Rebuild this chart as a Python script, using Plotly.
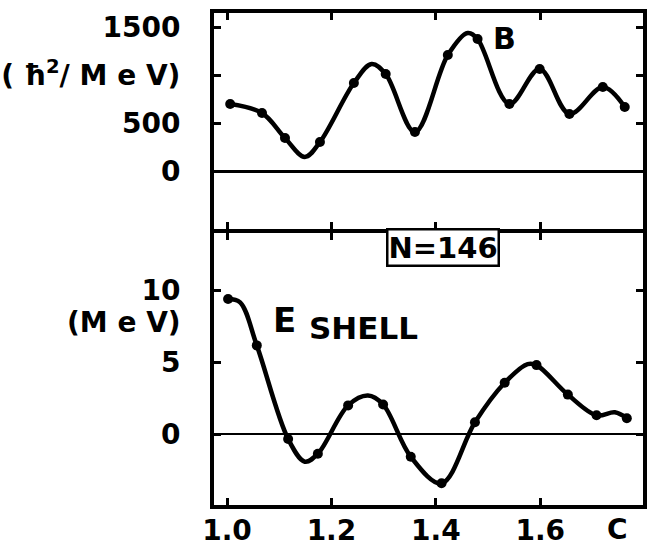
import plotly.graph_objects as go

# Inertia parameter B (hbar^2/MeV) versus deformation C, N=146
b_c = [1.006, 1.067, 1.111, 1.178, 1.243, 1.304, 1.360, 1.423, 1.480, 1.541, 1.599, 1.656, 1.720, 1.762]
b_val = [698, 604, 344, 302, 917, 1010, 406, 1208, 1375, 698, 1063, 594, 875, 667]
# turning points of the drawn B curve between the computed points
b_turn_c = [1.149, 1.277, 1.461]
b_turn_val = [146, 1115, 1438]

# Shell correction energy E_shell (MeV) versus C
e_c = [1.002, 1.057, 1.117, 1.174, 1.232, 1.299, 1.352, 1.411, 1.475, 1.532, 1.593, 1.653, 1.708, 1.766]
e_val = [9.38, 6.16, -0.34, -1.37, 1.99, 2.05, -1.58, -3.42, 0.82, 3.56, 4.79, 2.74, 1.30, 1.10]
e_turn_c = [1.025, 1.149, 1.270, 1.576, 1.743]
e_turn_val = [9.15, -1.92, 2.67, 4.86, 1.51]

x_ticks = [1.0, 1.2, 1.4, 1.6]
x_ticktext = ["1.0", "1.2", "1.4", "1.6"]
b_ticks = [1500, 1000, 500, 0]
b_ticktext = ["1500", "( ħ<sup>2</sup>/ M e V)", "500", "0"]
b_minor_ticks = [-300]
e_ticks = [10, 5, 0]
e_ticktext = ["10", "5", "0"]

FONT = "DejaVu Sans"
INK = "black"


def merged(cs, vs, tc, tv):
    pts = sorted(zip(list(cs) + list(tc), list(vs) + list(tv)))
    return [p[0] for p in pts], [p[1] for p in pts]


bc_line, bv_line = merged(b_c, b_val, b_turn_c, b_turn_val)
ec_line, ev_line = merged(e_c, e_val, e_turn_c, e_turn_val)

fig = go.Figure()
fig.add_trace(go.Scatter(x=bc_line, y=bv_line, mode="lines", xaxis="x", yaxis="y",
                         line=dict(color=INK, width=4.5, shape="spline", smoothing=1.0),
                         hoverinfo="skip"))
fig.add_trace(go.Scatter(x=b_c, y=b_val, mode="markers", xaxis="x", yaxis="y",
                         marker=dict(color=INK, size=10)))
fig.add_trace(go.Scatter(x=ec_line, y=ev_line, mode="lines", xaxis="x2", yaxis="y2",
                         line=dict(color=INK, width=4.5, shape="spline", smoothing=1.0),
                         hoverinfo="skip"))
fig.add_trace(go.Scatter(x=e_c, y=e_val, mode="markers", xaxis="x2", yaxis="y2",
                         marker=dict(color=INK, size=10)))

LW = 4
PLOT_H = 546 - 13 - 41
split = 0.561
gap = LW / PLOT_H
xr = [0.975, 1.797]
b_range = [-604, 1646]
axis_common = dict(showline=True, linecolor=INK, linewidth=LW, mirror="ticks",
                   ticks="inside", ticklen=7, tickwidth=3, tickcolor=INK,
                   showgrid=False, fixedrange=True, automargin=False)
tick_font = dict(family=FONT, size=28, weight="bold", color=INK)

fig.update_layout(
    width=648, height=546,
    margin=dict(l=214, r=5, t=13, b=41),
    paper_bgcolor="white", plot_bgcolor="white",
    showlegend=False,
    font=dict(family=FONT, color=INK, size=26),
    xaxis=dict(domain=[0, 1], anchor="y", range=xr, tickvals=x_ticks,
               showticklabels=False, zeroline=False, **axis_common),
    yaxis=dict(domain=[split, 1], anchor="x", range=b_range,
               tickvals=b_ticks, ticktext=b_ticktext, ticklabelstandoff=24,
               zeroline=True, zerolinecolor=INK, zerolinewidth=3,
               tickfont=tick_font, **axis_common),
    # extra unlabelled tick below the zero line of the B panel
    yaxis3=dict(domain=[split, 1], anchor="x", overlaying="y", range=b_range,
                tickvals=b_minor_ticks, showticklabels=False, zeroline=False,
                **axis_common),
    xaxis2=dict(domain=[0, 1], anchor="y2", range=xr, tickvals=x_ticks,
                ticktext=x_ticktext, ticklabelstandoff=-3, zeroline=False,
                tickfont=tick_font, **axis_common),
    yaxis2=dict(domain=[0, split - gap], anchor="x2", range=[-4.93, 13.97],
                tickvals=e_ticks, ticktext=e_ticktext, ticklabelstandoff=24,
                zeroline=True, zerolinecolor=INK, zerolinewidth=2,
                tickfont=tick_font, **axis_common),
)

fig.add_annotation(text="(M e V)", xref="paper", yref="y2", x=-0.072, y=7.74,
                   xanchor="right", yanchor="middle", showarrow=False, font=tick_font)
fig.add_annotation(text="C", xref="x2", yref="paper", x=1.749, y=-0.05,
                   xanchor="center", yanchor="middle", showarrow=False, font=tick_font)
fig.add_annotation(text="B", xref="x", yref="y", x=1.531, y=1385,
                   showarrow=False, font=dict(family=FONT, size=30, color=INK, weight="bold"))
fig.add_annotation(text="E", xref="x2", yref="y2", x=1.111, y=7.9,
                   showarrow=False, font=dict(family=FONT, size=34, color=INK, weight="bold"))
fig.add_annotation(text="SHELL", xref="x2", yref="y2", x=1.261, y=7.35,
                   showarrow=False, font=dict(family=FONT, size=31, color=INK, weight="bold"))
fig.add_annotation(text="N=146", xref="x2", yref="y2", x=1.414, y=12.95,
                   showarrow=False, bgcolor="white", bordercolor=INK, borderwidth=2.5,
                   borderpad=0, font=dict(family=FONT, size=29, color=INK, weight="bold"))

fig.write_html("out.html")
